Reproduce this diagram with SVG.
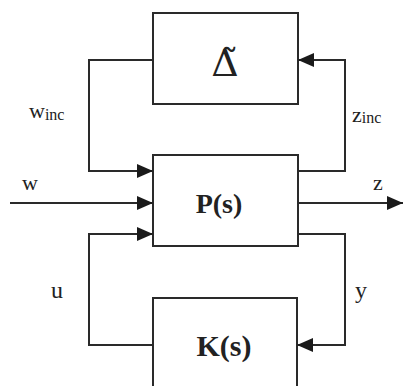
<svg xmlns="http://www.w3.org/2000/svg" width="403" height="386" viewBox="0 0 403 386">
<defs>
<style>
.box{fill:none;stroke:#2a2a2a;stroke-width:2}
.wire{fill:none;stroke:#2a2a2a;stroke-width:2}
.t{font-family:"Liberation Serif","Times New Roman",serif;fill:#222}
.b{font-weight:bold}
</style>
<marker id="ah" viewBox="0 0 16 14" refX="16" refY="7" markerWidth="16" markerHeight="14" markerUnits="userSpaceOnUse" orient="auto">
<path d="M0,0 L16,7 L0,14 Z" fill="#1a1a1a"/>
</marker>
</defs>
<rect width="403" height="386" fill="#ffffff"/>
<g id="delta">
<rect class="box" x="153" y="13" width="145" height="91"/>
<text x="225" y="76" font-size="38" text-anchor="middle" font-family="'DejaVu Serif',serif" fill="#222">Δ̃</text>
</g>
<g id="plant">
<rect class="box" x="153" y="155" width="145" height="91"/>
<text class="t b" x="219" y="213" font-size="28" text-anchor="middle">P(s)</text>
</g>
<g id="controller">
<rect class="box" x="153" y="298" width="144" height="96"/>
<text class="t b" x="224" y="356" font-size="30" text-anchor="middle">K(s)</text>
</g>
<g id="connectors">
<path class="wire" d="M153,60 H89 V171 H153" marker-end="url(#ah)"/>
<path class="wire" d="M298,171 H345 V60 H298" marker-end="url(#ah)"/>
<path class="wire" d="M10,203 H153" marker-end="url(#ah)"/>
<path class="wire" d="M298,203 H403" marker-end="url(#ah)"/>
<path class="wire" d="M153,345 H89 V234 H153" marker-end="url(#ah)"/>
<path class="wire" d="M298,234 H345 V345 H297" marker-end="url(#ah)"/>
</g>
<g id="labels">
<text class="t" x="29" y="118" font-size="22">w<tspan font-size="16" dy="2">inc</tspan></text>
<text class="t" x="352" y="122" font-size="22">z<tspan font-size="16" dy="1">inc</tspan></text>
<text class="t" x="22" y="190" font-size="22">w</text>
<text class="t" x="373" y="190" font-size="22">z</text>
<text class="t" x="51" y="298" font-size="24">u</text>
<text class="t" x="355" y="298" font-size="24">y</text>
</g>
</svg>
